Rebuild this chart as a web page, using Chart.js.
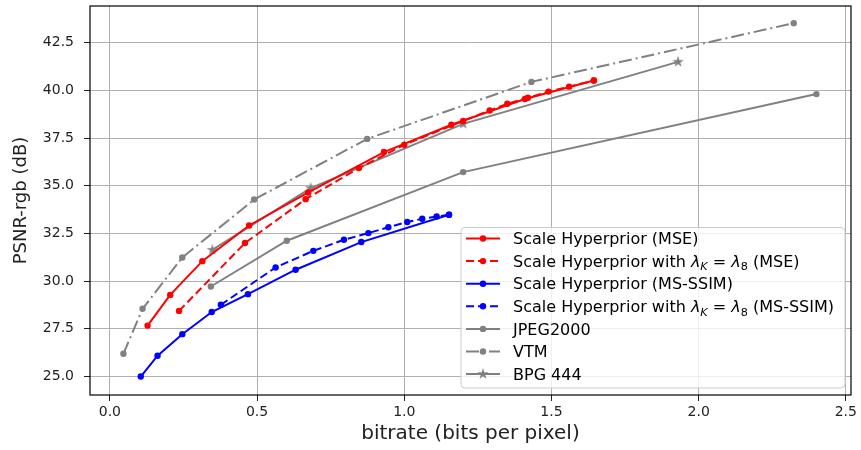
<!DOCTYPE html>
<html>
<head>
<meta charset="utf-8">
<script src="https://cdn.jsdelivr.net/npm/chart.js@4.4.1/dist/chart.umd.min.js"></script>
<style>
  html, body { margin: 0; padding: 0; background: #ffffff; }
  canvas { display: block; }
</style>
</head>
<body>
<canvas id="rd" width="861" height="450"></canvas>
<script>
// Rate–distortion curves: bitrate in bits per pixel, quality in PSNR-rgb (dB)
const hpMseRate   = [0.128, 0.205, 0.314, 0.473, 0.674, 0.931, 1.160, 1.410, 1.644];
const hpMsePsnr   = [27.67, 29.28, 31.05, 32.92, 34.65, 36.77, 38.20, 39.55, 40.52];

const hpMseK8Rate = [0.235, 0.459, 0.665, 0.846, 1.000, 1.200, 1.290, 1.350, 1.420, 1.490, 1.560, 1.644];
const hpMseK8Psnr = [28.44, 32.00, 34.30, 35.93, 37.15, 38.40, 38.95, 39.30, 39.62, 39.94, 40.20, 40.52];

const hpSsimRate  = [0.105, 0.162, 0.246, 0.346, 0.469, 0.631, 0.854, 1.152];
const hpSsimPsnr  = [25.00, 26.09, 27.22, 28.38, 29.32, 30.60, 32.05, 33.48];

const hpSsimK8Rate = [0.377, 0.563, 0.691, 0.795, 0.878, 0.946, 1.010, 1.061, 1.110, 1.152];
const hpSsimK8Psnr = [28.76, 30.72, 31.59, 32.17, 32.52, 32.83, 33.10, 33.27, 33.39, 33.48];

const jpeg2000Rate = [0.343, 0.601, 1.200, 2.400];
const jpeg2000Psnr = [29.72, 32.12, 35.72, 39.81];

const vtmRate = [0.046, 0.111, 0.246, 0.490, 0.874, 1.432, 2.323];
const vtmPsnr = [26.19, 28.55, 31.24, 34.28, 37.46, 40.45, 43.53];

const bpgRate = [0.348, 0.682, 1.200, 1.930];
const bpgPsnr = [31.64, 34.88, 38.25, 41.50];

// Axis ticks
const xTickValues = [0.0, 0.5, 1.0, 1.5, 2.0, 2.5];
const yTickValues = [25.0, 27.5, 30.0, 32.5, 35.0, 37.5, 40.0, 42.5];

const FONT = "'DejaVu Sans', sans-serif";
const RED = '#ff0000', BLUE = '#0000ff', GREY = '#808080';
const DASHED = [8, 4];
const DASHDOT = [13, 4, 2, 4];

function pairs(xs, ys) { return xs.map((x, i) => ({ x: x, y: ys[i] })); }

// Filled five-pointed star used as the BPG marker
function makeStar(r, color) {
  const size = Math.ceil(2 * r + 2);
  const c = document.createElement('canvas');
  c.width = size; c.height = size;
  const g = c.getContext('2d');
  const cx = size / 2, cy = size / 2, inner = r * 0.382;
  g.beginPath();
  for (let k = 0; k < 10; k++) {
    const rad = k % 2 === 0 ? r : inner;
    const a = -Math.PI / 2 + k * Math.PI / 5;
    const px = cx + rad * Math.cos(a), py = cy + rad * Math.sin(a);
    if (k === 0) g.moveTo(px, py); else g.lineTo(px, py);
  }
  g.closePath();
  g.fillStyle = color;
  g.fill();
  return c;
}
const starMark = makeStar(6, GREY);

function series(label, xs, ys, color, dash, point, radius, legendText) {
  return {
    label: label,
    legendText: legendText,
    data: pairs(xs, ys),
    borderColor: color,
    backgroundColor: color,
    borderWidth: 2,
    borderDash: dash,
    pointStyle: point,
    pointRadius: radius,
    pointBorderWidth: 0,
    pointBackgroundColor: color,
    pointBorderColor: color,
    showLine: true,
    tension: 0,
    fill: false
  };
}

function withLambda(tag) {
  return [
    { t: 'Scale Hyperprior with ' },
    { t: '\u03bb', it: true }, { t: 'K', it: true, sub: true },
    { t: ' = ' },
    { t: '\u03bb', it: true }, { t: '8', sub: true },
    { t: ' (' + tag + ')' }
  ];
}

const datasets = [
  series('Scale Hyperprior (MSE)', hpMseRate, hpMsePsnr, RED, [], 'circle', 3.2,
         [{ t: 'Scale Hyperprior (MSE)' }]),
  series('Scale Hyperprior with λK = λ8 (MSE)', hpMseK8Rate, hpMseK8Psnr, RED, DASHED, 'circle', 3.2,
         withLambda('MSE')),
  series('Scale Hyperprior (MS-SSIM)', hpSsimRate, hpSsimPsnr, BLUE, [], 'circle', 3.2,
         [{ t: 'Scale Hyperprior (MS-SSIM)' }]),
  series('Scale Hyperprior with λK = λ8 (MS-SSIM)', hpSsimK8Rate, hpSsimK8Psnr, BLUE, DASHED, 'circle', 3.2,
         withLambda('MS-SSIM')),
  series('JPEG2000', jpeg2000Rate, jpeg2000Psnr, GREY, [], 'circle', 3.2,
         [{ t: 'JPEG2000' }]),
  series('VTM', vtmRate, vtmPsnr, GREY, DASHDOT, 'circle', 3.2,
         [{ t: 'VTM' }]),
  series('BPG 444', bpgRate, bpgPsnr, GREY, [], starMark, 6,
         [{ t: 'BPG 444' }])
];

// Black frame around the plotting area
const framePlugin = {
  id: 'frame',
  afterDatasetsDraw(chart) {
    const { ctx, chartArea: a } = chart;
    ctx.save();
    ctx.strokeStyle = '#000000';
    ctx.lineWidth = 1.2;
    ctx.strokeRect(a.left, a.top, a.right - a.left, a.bottom - a.top);
    ctx.restore();
  }
};

// Legend box in the lower right corner, with line samples and mathtext-style labels
const legendPlugin = {
  id: 'rdLegend',
  afterDraw(chart) {
    const ctx = chart.ctx;
    const box = { x: 461, y: 227.5, w: 384, h: 160.5, r: 4 };
    const rowTop = 238.5, rowStep = 22.6;
    const lineX0 = 466, lineX1 = 500, textX = 513;
    const size = 16;

    ctx.save();
    ctx.beginPath();
    ctx.roundRect(box.x, box.y, box.w, box.h, box.r);
    ctx.fillStyle = 'rgba(255,255,255,0.8)';
    ctx.fill();
    ctx.strokeStyle = '#cccccc';
    ctx.lineWidth = 1;
    ctx.stroke();

    chart.data.datasets.forEach((ds, i) => {
      const y = rowTop + i * rowStep;
      ctx.save();
      ctx.strokeStyle = ds.borderColor;
      ctx.lineWidth = ds.borderWidth;
      ctx.setLineDash(ds.borderDash);
      ctx.beginPath();
      ctx.moveTo(lineX0, y);
      ctx.lineTo(lineX1, y);
      ctx.stroke();
      ctx.restore();

      const mx = (lineX0 + lineX1) / 2;
      if (ds.pointStyle === 'circle') {
        ctx.beginPath();
        ctx.arc(mx, y, ds.pointRadius, 0, Math.PI * 2);
        ctx.fillStyle = ds.pointBackgroundColor;
        ctx.fill();
      } else {
        const img = ds.pointStyle;
        ctx.drawImage(img, mx - img.width / 2, y - img.height / 2);
      }

      let x = textX;
      ctx.fillStyle = '#000000';
      ctx.textBaseline = 'alphabetic';
      const base = y + size * 0.36;
      ds.legendText.forEach(seg => {
        const fs = seg.sub ? size * 0.7 : size;
        ctx.font = (seg.it ? 'italic ' : '') + fs + 'px ' + FONT;
        const yy = seg.sub ? base + size * 0.22 : base;
        ctx.fillText(seg.t, x, yy);
        x += ctx.measureText(seg.t).width;
      });
    });
    ctx.restore();
  }
};

new Chart(document.getElementById('rd'), {
  type: 'line',
  data: { datasets: datasets },
  options: {
    responsive: false,
    animation: false,
    events: [],
    layout: { padding: { left: 0, right: 10, top: 6, bottom: 0 } },
    plugins: {
      legend: { display: false },
      tooltip: { enabled: false }
    },
    scales: {
      x: {
        type: 'linear',
        min: -0.0675,
        max: 2.5175,
        afterBuildTicks(scale) { scale.ticks = xTickValues.map(v => ({ value: v })); },
        afterFit(scale) { scale.height = 55; scale.paddingLeft = 0; scale.paddingRight = 0; },
        grid: { color: '#b0b0b0', lineWidth: 1, tickLength: 6, tickColor: '#222222', tickWidth: 1 },
        border: { display: false },
        ticks: {
          color: '#222222',
          font: { family: FONT, size: 14 },
          padding: 3,
          maxRotation: 0,
          callback: v => Number(v).toFixed(1)
        },
        title: {
          display: true,
          text: 'bitrate (bits per pixel)',
          color: '#222222',
          font: { family: FONT, size: 20 },
          padding: { top: 0, bottom: 4 }
        }
      },
      y: {
        type: 'linear',
        min: 24.03,
        max: 44.43,
        afterBuildTicks(scale) { scale.ticks = yTickValues.map(v => ({ value: v })); },
        afterFit(scale) { scale.width = 90; scale.paddingTop = 0; scale.paddingBottom = 0; },
        grid: { color: '#b0b0b0', lineWidth: 1, tickLength: 6, tickColor: '#222222', tickWidth: 1 },
        border: { display: false },
        ticks: {
          color: '#222222',
          font: { family: FONT, size: 14 },
          padding: 10,
          callback: v => Number(v).toFixed(1)
        },
        title: {
          display: true,
          text: 'PSNR-rgb (dB)',
          color: '#222222',
          font: { family: FONT, size: 18 },
          padding: { top: 11, bottom: 0 }
        }
      }
    }
  },
  plugins: [framePlugin, legendPlugin]
});
</script>
</body>
</html>
